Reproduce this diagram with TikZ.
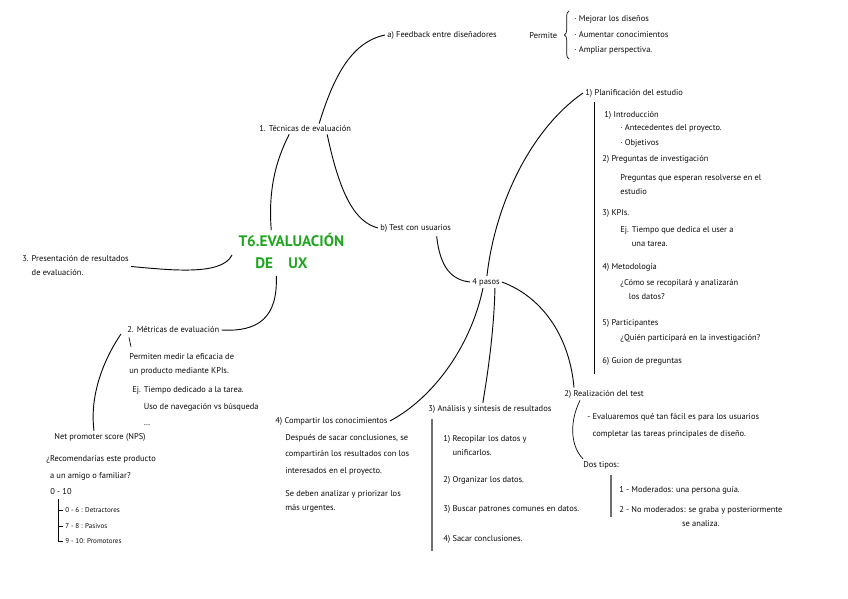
\documentclass[tikz,border=0pt]{standalone}
\usepackage{fontspec}
\setmainfont{PT Sans}
\usetikzlibrary{positioning,calc,decorations.pathreplacing}
\definecolor{ink}{HTML}{0A0A0A}
\definecolor{tgreen}{HTML}{1FA51F}
\definecolor{inkgray}{HTML}{6E6E6E}

\begin{document}
\begin{tikzpicture}[x=0.03cm, y=-0.03cm, font=\fontsize{7.2}{12}\selectfont,
  txt/.style={anchor=west, inner sep=0pt, outer sep=2pt, align=left, text=ink},
  small/.style={txt, font=\fontsize{6}{8}\selectfont},
  title/.style={anchor=west, inner sep=0pt, outer sep=3pt, align=left, text=tgreen,
    font=\fontsize{13}{18}\selectfont\bfseries},
  branch/.style={draw=ink, line width=0.8pt},
  rail/.style={draw=ink, line width=0.6pt},
  grail/.style={draw=inkgray, line width=1pt}]

\useasboundingbox (0,0) rectangle (848,599);

% ---------------- centre and main branches
\node[title] (title) at (235,251) {T6.EVALUACIÓN\\\hspace*{1.1em}DE\quad UX};
\node[txt] (tec) at (257,129) {1. Técnicas de evaluación};
\node[txt] (met2) at (125,330) {2. Métricas de evaluación};
\node[txt] (pres) at (20,265.5) {3. Presentación de resultados\\\phantom{3. }de evaluación.};

\draw[branch] ($(title.north)+(-20,0)$) .. controls (268,190) and (276,160) .. ($(tec.south)+(-16,0)$);
\draw[branch] ($(title.south)+(-15,4)$) .. controls (278,318) and (258,332) .. (met2.east);
\draw[branch] ($(title.west)+(-3,4)$) .. controls (222,276) and (170,270) .. ($(pres.east)+(0,1)$);

% ---------------- 1. tecnicas
\node[txt] (feed) at (385,35) {a) Feedback entre diseñadores};
\node[txt] (perm) at (527,36) {Permite};
\node[txt, font=\fontsize{7.2}{13.5}\selectfont] (mej) at (572,35)
  {· Mejorar los diseños\\· Aumentar conocimientos\\· Ampliar perspectiva.};
\draw[rail, decorate, decoration={brace, amplitude=4pt}]
  ($(mej.south west)+(-3,2)$) -- ($(mej.north west)+(-3,-2)$);
\node[txt] (bt) at (378,228) {b) Test con usuarios};
\node[txt] (pasos) at (470,282) {4 pasos};

\draw[branch] ($(tec.north)+(14,0)$) .. controls (334,75) and (352,42) .. (feed.west);
\draw[branch] ($(tec.south)+(22,0)$) .. controls (340,195) and (355,222) .. (bt.west);
\draw[branch] ($(bt.south)+(21,2)$) .. controls (440,268) and (452,280) .. (pasos.west);

% ---------------- paso 1: planificacion
\node[txt] (plan) at (583,93) {1) Planificación del estudio};
\node[txt] (intro) at (602,115) {1) Introducción};
\node[txt] (ante) at (618,128) {· Antecedentes del proyecto.};
\node[txt] (obj) at (618,143) {· Objetivos};
\node[txt] (preg) at (600,159) {2) Preguntas de investigación};
\node[txt] (pregd) at (618,184.5) {Preguntas que esperan resolverse en el\\estudio};
\node[txt] (kpi) at (600,213) {3) KPIs.};
\node[txt] (kpid) at (618,237) {Ej. Tiempo que dedica el user a\\\phantom{Ej. }una tarea.};
\node[txt] (meto) at (600,267) {4) Metodología};
\node[txt] (metod) at (618,290) {¿Cómo se recopilará y analizarán\\\phantom{¿C}los datos?};
\node[txt] (part) at (600,323) {5) Participantes};
\node[txt] (partd) at (618,338) {¿Quién participará en la investigación?};
\node[txt] (guion) at (600,361) {6) Guion de preguntas};

\draw[rail] ($(plan.south west)+(11,3)$) coordinate (pr) -- ($(pr |- guion.south)+(0,7)$);
\draw[branch] (plan.west) .. controls (530,130) and (495,205) .. ($(pasos.north)+(1,0)$);

% ---------------- paso 2: realizacion
\node[txt] (real) at (562,394) {2) Realización del test};
\node[txt, font=\fontsize{7.2}{14.5}\selectfont] (reald) at (585,425.5)
  {- Evaluaremos qué tan fácil es para los usuarios\\\phantom{- }completar las tareas principales de diseño.};
\node[txt] (dos) at (581,465) {Dos tipos:};
\node[txt] (mod) at (617,490) {1 - Moderados: una persona guía.};
\node[txt, align=center] (nomod) at (617,516.5) {2 - No moderados: se graba y posteriormente\\se analiza.};

\draw[branch] (pasos.east) .. controls (545,298) and (570,340) .. ($(real.north west)+(12,0)$);
\draw[rail] ($(real.south west)+(18,0)$) .. controls (568,425) and (572,448) .. ($(dos.north west)+(2,0)$);
\draw[grail] ($(dos.south west)+(30,4)$) coordinate (dr) -- (dr |- nomod.center);

% ---------------- paso 3: analisis
\node[txt] (ana) at (426,409) {3) Análisis y síntesis de resultados};
\node[txt] (rec) at (441,446) {1) Recopilar los datos y\\\phantom{1) }unificarlos.};
\node[txt] (org) at (441,480) {2) Organizar los datos.};
\node[txt] (bus) at (441,509) {3) Buscar patrones comunes en datos.};
\node[txt] (sac) at (441,539) {4) Sacar conclusiones.};

\draw[branch] ($(pasos.south)+(9,0)$) .. controls (494,330) and (488,372) .. ($(ana.north)+(-7,0)$);
\draw[grail] ($(ana.south west)+(6,4)$) coordinate (ar) -- ($(ar |- sac.south)+(0,6)$);

% ---------------- paso 4: compartir
\node[txt] (comp) at (273,421) {4) Compartir los conocimientos};
\node[txt, font=\fontsize{7.2}{14}\selectfont] (compd) at (283,454.5)
  {Después de sacar conclusiones, se\\compartirán los resultados con los\\interesados en el proyecto.};
\node[txt] (prio) at (283,501) {Se deben analizar y priorizar los\\más urgentes.};

\draw[branch] ($(pasos.south)+(-3,0)$) .. controls (470,350) and (430,400) .. (comp.east);

% ---------------- 2. metricas
\node[txt] (permd) at (127,364) {Permiten medir la eficacia de\\un producto mediante KPIs.};
\node[txt, font=\fontsize{7.2}{14}\selectfont] (ej2) at (130,407)
  {Ej. Tiempo dedicado a la tarea.\\\phantom{Ej. }Uso de navegación vs búsqueda\\\phantom{Ej. }\dots};
\node[txt] (nps) at (52,437) {Net promoter score (NPS)};
\node[txt, font=\fontsize{7.2}{15}\selectfont] (npsq) at (44,468) {¿Recomendarías este producto\\\phantom{¿}a un amigo o familiar?};
\node[txt] (esc) at (48,492) {0 - 10};
\node[small] (det) at (63,510) {0 - 6 : Detractores};
\node[small] (pas) at (63,526) {7 - 8 : Pasivos};
\node[small] (pro) at (63,541) {9 - 10: Promotores};

\draw[rail] ($(met2.south west)+(4,2)$) -- ($(permd.north west)+(4,-4)$);
\draw[branch] ($(met2.west)+(-4,4)$) .. controls (100,365) and (90,400) .. ($(nps.north)+(-6,0)$);
\draw[rail] ($(esc.south west)+(10,2)$) coordinate (st) |- (pro.west);
\draw[rail] (st |- det.west) -- (det.west);
\draw[rail] (st |- pas.west) -- (pas.west);
\end{tikzpicture}
\end{document}
